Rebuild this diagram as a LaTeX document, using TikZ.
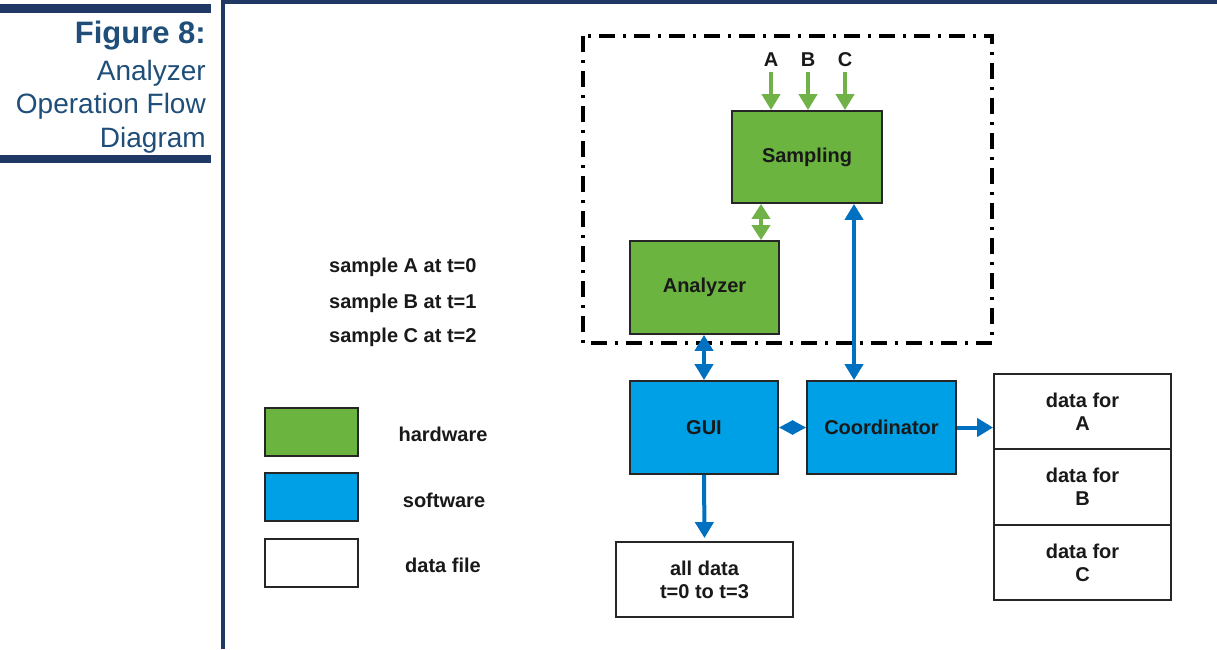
\documentclass[tikz,border=0pt]{standalone}
\usepackage{fontspec}
\setmainfont{Liberation Sans}
\usetikzlibrary{arrows.meta,calc}
\definecolor{navy}{RGB}{31,56,100}
\definecolor{titleblue}{RGB}{31,78,121}
\definecolor{hwgreen}{RGB}{106,180,63}
\definecolor{swblue}{RGB}{0,160,230}
\definecolor{arrowblue}{RGB}{0,112,192}
\definecolor{arrowgreen}{RGB}{112,178,71}
\definecolor{edge}{RGB}{38,38,38}
\definecolor{txt}{RGB}{25,25,25}
\begin{document}
\begin{tikzpicture}[x=1pt,y=-1pt,
  box/.style={draw=edge,line width=1.8pt,rectangle,inner sep=0pt,align=center,text=txt,
    font=\fontsize{20}{23}\selectfont\bfseries},
  hwbox/.style={box,fill=hwgreen},
  swbox/.style={box,fill=swblue},
  filebox/.style={box,fill=white},
  lbl/.style={font=\fontsize{20}{23}\selectfont\bfseries,text=txt,inner sep=0pt},
  ttl/.style={font=\fontsize{28}{33}\selectfont,text=titleblue,inner sep=0pt,anchor=base east},
  bluearr/.style={draw=arrowblue,line width=4pt,-{Triangle[length=16pt,width=18pt]}},
  bluedbl/.style={draw=arrowblue,line width=4pt,{Triangle[length=16pt,width=18pt]}-{Triangle[length=16pt,width=18pt]}},
  greenarr/.style={draw=arrowgreen,line width=4pt,-{Triangle[length=16pt,width=18pt]}},
  greendbl/.style={draw=arrowgreen,line width=4pt,{Triangle[length=15pt,width=18pt]}-{Triangle[length=15pt,width=18pt]}},
  frame/.style={draw=black,line width=3.2pt,dash pattern=on 16pt off 8pt on 3pt off 8pt}
]
\useasboundingbox (0,0) rectangle (1217,649);
% title panel
\fill[navy] (0,4) rectangle (211,13);
\fill[navy] (0,155) rectangle (211,163);
\fill[navy] (221,0) rectangle (225,649);
\fill[navy] (221,0) rectangle (1217,4);
\node[ttl,font=\fontsize{31}{33}\selectfont\bfseries] (t1) at (206,43) {Figure 8:};
\node[ttl] (t2) at (206,80) {Analyzer};
\node[ttl] (t3) at (206,113) {Operation Flow};
\node[ttl] (t4) at (206,147) {Diagram};

% dash-dot frame
\draw[frame] (583,36) rectangle (992,343);

% boxes
\node[hwbox,minimum width=150pt,minimum height=92pt] (samp) at (807,157) {Sampling};
\node[hwbox,minimum width=149pt,minimum height=93pt] (anl) at (704.5,287.5) {Analyzer};
\node[swbox,minimum width=148pt,minimum height=93pt] (gui) at (704,427.5) {GUI};
\node[swbox,minimum width=149pt,minimum height=93pt] (coord) at (881.5,427.5) {Coordinator};
\node[filebox,minimum width=177pt,minimum height=75pt] (all) at (704.5,579.5) {all data\\t=0 to t=3};
\node[filebox,minimum width=177pt,minimum height=75pt] (dA) at (1082.5,411.5) {data for\\A};
\node[filebox,minimum width=177pt,minimum height=76pt] (dB) at (1082.5,487) {data for\\B};
\node[filebox,minimum width=177pt,minimum height=75pt] (dC) at (1082.5,562.5) {data for\\C};

% input labels
\node[lbl] (la) at (771,60) {A};
\node[lbl] (lb) at (808,60) {B};
\node[lbl] (lc) at (845,60) {C};
\draw[greenarr] ($(la.south)+(0,5)$) -- (samp.north -| la);
\draw[greenarr] ($(lb.south)+(0,5)$) -- (samp.north -| lb);
\draw[greenarr] ($(lc.south)+(0,5)$) -- (samp.north -| lc);

% connectors
\coordinate (xsa) at (761,0);
\coordinate (xcs) at (854,0);
\draw[greendbl] (samp.south -| xsa) -- (anl.north -| xsa);
\draw[bluedbl] (samp.south -| xcs) -- (coord.north -| xcs);
\draw[bluedbl] (anl.south -| gui.north) -- (gui.north);
\draw[draw=arrowblue,line width=3pt,{Triangle[length=14pt,width=14pt]}-{Triangle[length=14pt,width=14pt]}] (gui.east) -- (coord.west);
\draw[bluearr] (coord.east) -- (coord.east -| dA.west);
\draw[bluearr] (gui.south) -- ($(all.north)+(0,-3)$);

% sample notes
\node[lbl,anchor=west] (s1) at (329,267) {sample A at t=0};
\node[lbl,anchor=west] (s2) at (329,303) {sample B at t=1};
\node[lbl,anchor=west] (s3) at (329,337) {sample C at t=2};

% legend
\node[hwbox,minimum width=93pt,minimum height=48pt] (lg1) at (311.5,432) {};
\node[swbox,minimum width=93pt,minimum height=48pt] (lg2) at (311.5,497) {};
\node[filebox,minimum width=93pt,minimum height=48pt] (lg3) at (311.5,563) {};
\node[lbl] (lt1) at (443,434) {hardware};
\node[lbl] (lt2) at (444,500) {software};
\node[lbl] (lt3) at (443,565) {data file};
\end{tikzpicture}
\end{document}
